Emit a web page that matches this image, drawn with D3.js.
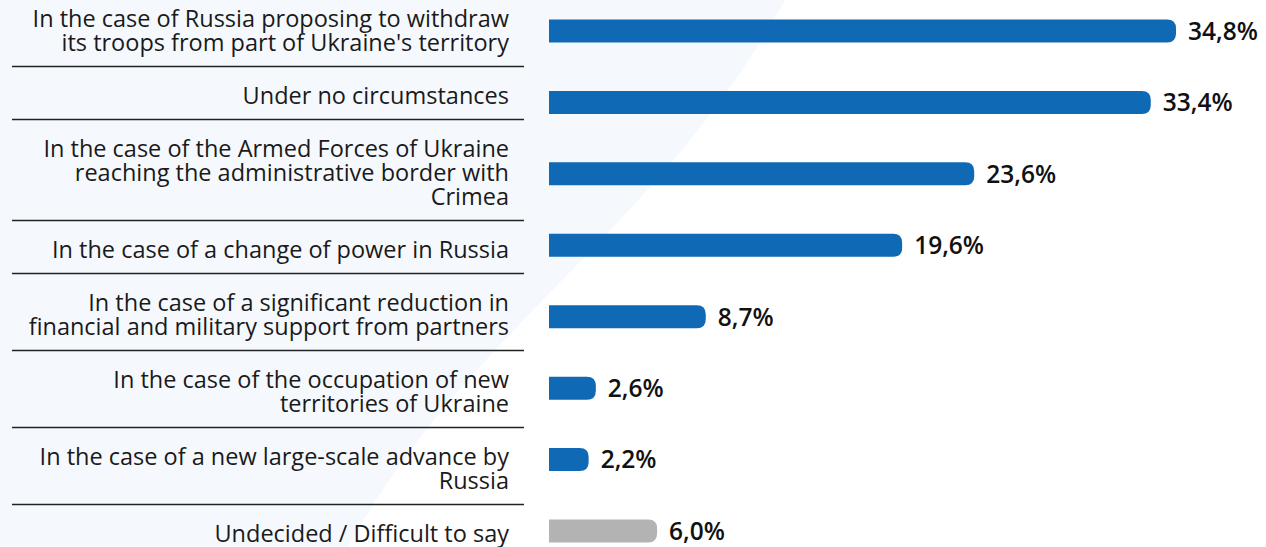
<!DOCTYPE html>
<html>
<head>
<meta charset="utf-8">
<script src="https://cdn.jsdelivr.net/npm/d3@7"></script>
<style>
  body { margin: 0; background: #fff; }
  svg { display: block; }
  text { font-family: "Open Sans", sans-serif; }
</style>
</head>
<body>
<script>
var width = 1266
var height = 547

// answers, top to bottom
var categories = [
  ["In the case of Russia proposing to withdraw", "its troops from part of Ukraine's territory"],
  ["Under no circumstances"],
  ["In the case of the Armed Forces of Ukraine", "reaching the administrative border with", "Crimea"],
  ["In the case of a change of power in Russia"],
  ["In the case of a significant reduction in", "financial and military support from partners"],
  ["In the case of the occupation of new", "territories of Ukraine"],
  ["In the case of a new large-scale advance by", "Russia"],
  ["Undecided / Difficult to say"]
]
var values = [34.8, 33.4, 23.6, 19.6, 8.7, 2.6, 2.2, 6.0]
var valueLabels = ["34,8%", "33,4%", "23,6%", "19,6%", "8,7%", "2,6%", "2,2%", "6,0%"]

var lineH = 24, rowPad = 29;

var data = values.map(function(v, i) {
  return {lines: categories[i], value: v, label: valueLabels[i], undecided: i == values.length - 1}
})

// label column is a stack of rows, each as tall as its text, centred on the page
var total = d3.sum(data, function(d) { return d.lines.length * lineH + rowPad; });
var acc = (height - total) / 2;
data.forEach(function(d) {
  d.top = acc;
  d.h = d.lines.length * lineH + rowPad;
  acc += d.h;
});

var svg = d3.select("body").append("svg")
    .attr("width", width)
    .attr("height", height);

// faint backdrop shape on the left
svg.append("path")
    .attr("d", "M0,0 L785,0 C740,80 690,150 580,262 C500,345 420,420 348,547 L0,547 Z")
    .attr("fill", "#f5f9fe");

var x = d3.scaleLinear().domain([0, 34.8]).range([549, 1176]);
var y = d3.scalePoint().domain(d3.range(data.length)).range([31, 531]);

var barH = 23, r = 9;

function barPath(d, i) {
  var x0 = x(0), x1 = x(d.value), y0 = y(i) - barH / 2, y1 = y(i) + barH / 2;
  var rr = Math.min(r, (x1 - x0) / 2);
  return "M" + x0 + "," + y0 + "H" + (x1 - rr) + "Q" + x1 + "," + y0 + " " + x1 + "," + (y0 + rr)
    + "V" + (y1 - rr) + "Q" + x1 + "," + y1 + " " + (x1 - rr) + "," + y1 + "H" + x0 + "Z";
}

var row = svg.append("g").selectAll("g")
    .data(data)
    .enter().append("g");

row.append("path")
    .attr("d", barPath)
    .attr("fill", function(d) { return d.undecided ? "#b3b3b3" : "#0f69b4"; });

row.append("text")
    .attr("x", function(d) { return x(d.value) + 12; })
    .attr("y", function(d, i) { return y(i); })
    .attr("dy", "0.36em")
    .attr("font-size", 24.5)
    .attr("font-weight", 600)
    .attr("fill", "#111")
    .text(function(d) { return d.label; });

row.each(function(d) {
  var g = d3.select(this);
  var first = d.top + d.h / 2 - (d.lines.length - 1) * lineH / 2;
  d.lines.forEach(function(s, k) {
    g.append("text")
        .attr("text-anchor", "end")
        .attr("x", 509)
        .attr("y", first + k * lineH)
        .attr("dy", "0.46em")
        .attr("font-size", 23.5)
        .attr("fill", "#1a1a1a")
        .text(s);
  });
});

// separators under each label except the last
row.filter(function(d, i) { return i < data.length - 1; })
  .append("line")
    .attr("x1", 12).attr("x2", 524)
    .attr("y1", function(d) { return d.top + d.h; })
    .attr("y2", function(d) { return d.top + d.h; })
    .attr("stroke", "#222")
    .attr("stroke-width", 1.3);
</script>
</body>
</html>
